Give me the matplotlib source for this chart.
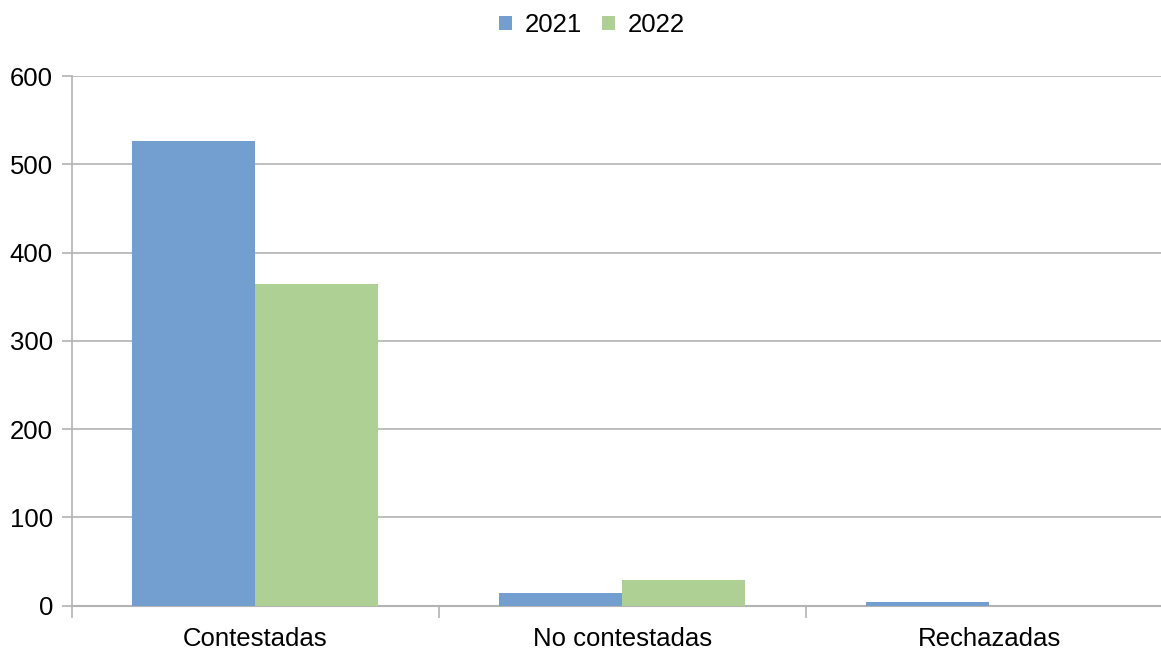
import matplotlib
matplotlib.use("Agg")
import matplotlib.pyplot as plt
import numpy as np

categories = ["Contestadas", "No contestadas", "Rechazadas"]
series_names = ["2021", "2022"]
values_2021 = [526, 14, 4]
values_2022 = [364, 29, 0]
colors = ["#729fcf", "#afd095"]

plt.rcParams['font.family'] = ['Liberation Sans', 'DejaVu Sans']

W, H = 1161, 650
fig = plt.figure(figsize=(W/100, H/100), dpi=100)
left, right, top, bottom = 72, 1173, 76, 605.7
ax = fig.add_axes([left/W, 1 - bottom/H, (right-left)/W, (bottom-top)/H])

x = np.arange(len(categories))
bw = 123/367
ax.bar(x - bw/2, values_2021, bw, color=colors[0], label=series_names[0], zorder=3)
ax.bar(x + bw/2, values_2022, bw, color=colors[1], label=series_names[1], zorder=3)

ax.set_xlim(-0.5, len(categories) - 0.5)
ax.set_ylim(0, 600)
ax.set_yticks(range(0, 601, 100))
ax.yaxis.grid(True, color="#b3b3b3", linewidth=1.2, zorder=0)
ax.set_axisbelow(True)

for s in ["top", "right"]:
    ax.spines[s].set_visible(False)
ax.spines["left"].set_color("#b3b3b3")
ax.spines["bottom"].set_color("#b3b3b3")
ax.spines["left"].set_linewidth(1.2)
ax.spines["bottom"].set_linewidth(1.5)
ax.spines["left"].set_bounds(-13, 600)
ax.spines["left"].set_clip_on(False)

fs = 18.5
ax.set_xticks(x)
ax.set_xticklabels(categories, fontsize=fs)
ax.tick_params(axis="x", length=0, pad=15)
ax.set_xticks(np.arange(0.5, len(categories) - 0.5, 1), minor=True)
ax.tick_params(axis="x", which="minor", length=8.6, color="#b3b3b3", width=1.2)
ax.tick_params(axis="y", length=7.2, color="#b3b3b3", width=1.2, labelsize=fs, pad=6.5)

leg = fig.legend(loc="center", bbox_to_anchor=(592/W, 1 - 25/H), ncol=2, frameon=False,
                 fontsize=fs, handlelength=0.5, handleheight=0.5, handletextpad=0.5,
                 columnspacing=0.75)

fig.savefig("out.png", dpi=100)
